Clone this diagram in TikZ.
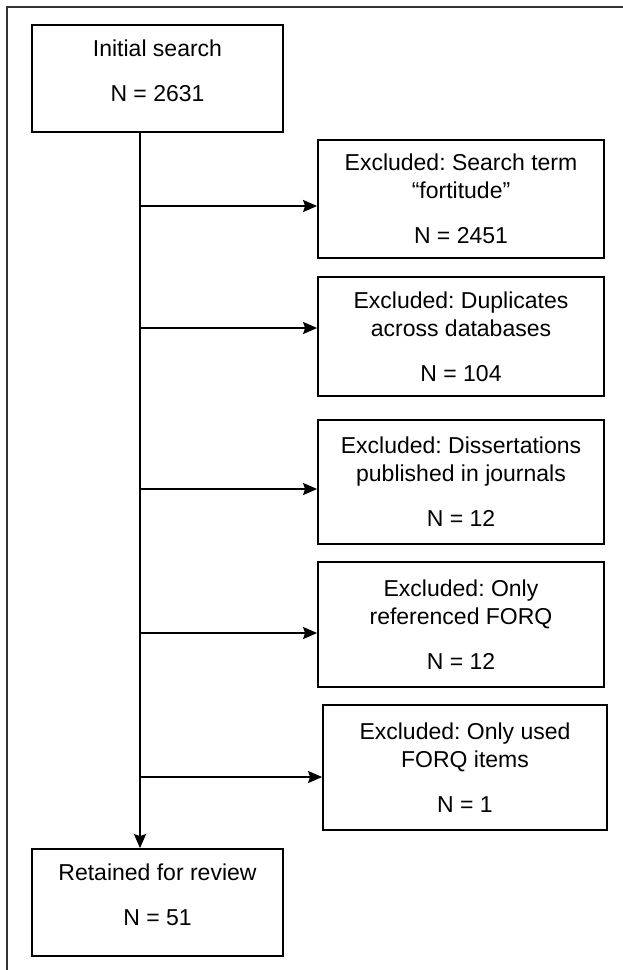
\documentclass[tikz,border=0pt]{standalone}
\usepackage{fontspec}
\setmainfont{Liberation Sans}
\frenchspacing
\usetikzlibrary{arrows.meta}
\tikzset{
    box/.style={rectangle, draw, line width=1.8pt, align=center,
        font=\fontsize{23}{28}\selectfont, inner sep=0pt},
    flow/.style={line width=2pt, -{Stealth[length=14pt,width=12pt,inset=2pt]}}
}
\begin{document}
\begin{tikzpicture}[x=1pt,y=-1pt]
        \useasboundingbox (0,0) rectangle (623,970);
        \draw[line width=1.6pt, black!80] (7,970) -- (7,7) -- (623,7);

        \node[box, minimum width=251pt, minimum height=107pt] (init) at (157.5, 78.5) {Initial search\\[17pt]N = 2631\\[-12pt]\mbox{}};
        \node[box, minimum width=286pt, minimum height=118pt] (ex1) at (461, 199) {Excluded: Search term\\``fortitude''\\[17pt]N = 2451};
        \node[box, minimum width=286pt, minimum height=119pt] (ex2) at (461, 336.5) {Excluded: Duplicates\\across databases\\[17pt]N = 104};
        \node[box, minimum width=286pt, minimum height=124pt] (ex3) at (461, 482) {Excluded: Dissertations\\published in journals\\[17pt]N = 12};
        \node[box, minimum width=286pt, minimum height=125pt] (ex4) at (461, 624.5) {Excluded: Only\\referenced FORQ\\[17pt]N = 12};
        \node[box, minimum width=284pt, minimum height=125pt] (ex5) at (465, 767.5) {Excluded: Only used\\FORQ items\\[17pt]N = 1};
        \node[box, minimum width=251pt, minimum height=107pt] (keep) at (157.5, 902.5) {Retained for review\\[17pt]N = 51\\[-12pt]\mbox{}};

        \coordinate (trunk) at (140, 0);
        \coordinate (t1) at (140, 206);
        \coordinate (t2) at (140, 328);
        \coordinate (t3) at (140, 489);
        \coordinate (t4) at (140, 633);
        \coordinate (t5) at (140, 777);

        \draw[flow] (init.south -| trunk) -- (keep.north -| trunk);
        \draw[flow] (t1) -- (t1 -| ex1.west);
        \draw[flow] (t2) -- (t2 -| ex2.west);
        \draw[flow] (t3) -- (t3 -| ex3.west);
        \draw[flow] (t4) -- (t4 -| ex4.west);
        \draw[flow] (t5) -- (t5 -| ex5.west);
\end{tikzpicture}
\end{document}
